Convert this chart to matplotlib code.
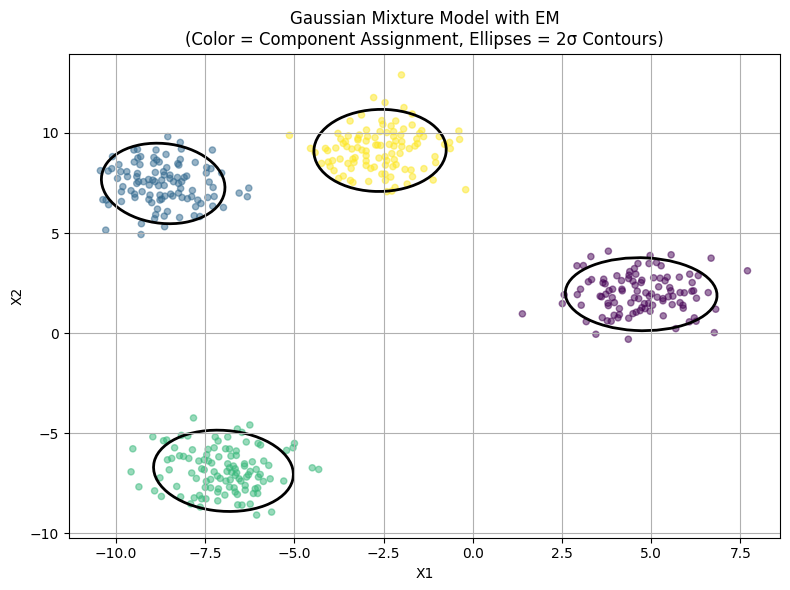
import numpy as np
import matplotlib
matplotlib.use("Agg")
import matplotlib.pyplot as plt
from matplotlib.patches import Ellipse

purple_x = [3.80,3.31,4.97,5.56,6.68,2.92,3.10,4.63,4.94,5.15,5.28,7.70,4.53,4.40,4.57,4.38,4.04,6.08,6.32,5.79,5.07,5.25,5.45,3.33,3.24,3.67,4.37,4.17,4.49,4.74,4.72,5.39,6.15,3.65,3.71,4.55,5.21,5.52,3.02,3.82,3.92,4.18,4.19,4.61,5.55,6.14,5.81,5.93,6.19,6.60,2.93,2.56,3.73,4.85,5.01,4.95,5.17,3.57,3.61,3.91,4.53,4.65,5.33,5.33,5.48,5.61,6.27,2.51,3.04,3.79,3.80,3.97,4.43,4.81,4.93,5.04,5.59,5.81,5.89,5.90,4.11,4.74,4.83,4.69,4.58,4.49,4.97,6.81,1.39,3.96,4.11,4.07,4.37,5.34,3.63,3.77,3.88,3.18,6.07,6.21,6.26,5.69,6.77,3.45,4.36]
purple_y = [4.10,3.83,3.88,3.92,3.75,3.37,3.38,3.48,3.48,3.53,3.37,3.12,3.23,3.08,2.95,2.90,2.87,2.95,2.88,2.80,2.77,2.75,2.80,2.68,2.57,2.70,2.73,2.63,2.60,2.65,2.53,2.62,2.53,2.52,2.47,2.40,2.32,2.28,2.20,2.13,2.20,2.20,2.12,2.10,2.12,2.10,2.03,2.02,2.12,2.03,1.93,1.92,1.95,2.02,1.97,1.85,1.80,1.85,1.82,1.78,1.77,1.73,1.73,1.62,1.82,1.85,1.75,1.48,1.40,1.50,1.38,1.53,1.52,1.48,1.50,1.40,1.43,1.53,1.40,1.25,1.23,1.28,1.23,1.13,1.05,0.98,1.10,1.20,0.97,0.90,0.93,0.77,0.75,0.87,0.78,0.62,0.60,0.58,0.57,0.77,0.60,0.23,0.03,-0.05,-0.30]

blue_x = [-8.55,-8.20,-8.17,-7.30,-9.50,-9.40,-8.88,-9.31,-9.39,-10.10,-8.60,-8.94,-9.49,-9.33,-8.95,-8.86,-8.79,-9.92,-7.78,-8.20,-8.27,-8.24,-10.44,-10.22,-10.12,-9.87,-9.70,-9.68,-9.96,-9.40,-9.42,-8.90,-8.58,-8.67,-8.49,-7.46,-7.34,-7.47,-7.04,-8.02,-8.09,-8.28,-8.16,-8.25,-8.39,-8.49,-8.65,-8.72,-8.91,-8.97,-9.09,-9.23,-9.37,-9.42,-9.07,-8.81,-8.65,-7.39,-7.28,-9.81,-9.85,-9.58,-9.48,-9.47,-9.27,-9.05,-9.08,-9.00,-8.77,-8.72,-8.77,-8.63,-8.47,-8.41,-8.25,-8.19,-7.86,-8.15,-8.00,-7.88,-7.43,-7.25,-6.55,-6.28,-6.32,-10.37,-10.28,-10.21,-9.85,-7.71,-7.62,-7.77,-7.29,-6.99,-8.84,-8.56,-8.89,-8.65,-8.92,-8.22,-7.81,-7.65,-8.64,-9.29,-10.29,-9.30]
blue_y = [9.82,9.53,9.20,9.15,9.15,9.18,9.15,8.82,8.75,8.82,8.93,8.78,8.55,8.42,8.48,8.65,8.55,8.42,8.53,8.68,8.47,8.40,8.12,8.10,8.22,8.07,8.07,7.82,7.73,7.98,7.82,8.03,8.27,8.07,7.90,8.28,8.22,8.00,8.00,7.85,7.78,7.78,7.57,7.48,7.57,7.73,7.90,7.65,7.57,7.65,7.68,7.57,7.57,7.48,7.40,7.37,7.38,7.55,7.28,7.32,7.07,7.12,6.95,6.78,7.07,6.90,6.68,6.52,6.90,6.70,6.65,6.85,6.95,6.85,7.00,7.23,7.13,6.78,6.72,6.82,6.78,6.83,7.00,7.25,6.82,6.67,6.65,6.42,6.58,6.65,6.48,6.32,6.35,6.28,6.20,6.08,5.92,5.85,5.72,5.78,5.87,5.83,5.32,5.47,5.15,4.93]

green_x = [-7.83,-6.25,-6.60,-6.47,-8.97,-8.67,-8.58,-8.17,-7.99,-7.22,-6.87,-7.14,-6.35,-6.02,-5.95,-5.00,-5.04,-5.22,-9.53,-8.36,-7.86,-7.42,-7.25,-6.93,-6.82,-6.63,-6.63,-6.78,-7.46,-8.22,-8.11,-7.96,-8.44,-8.56,-7.12,-7.68,-7.53,-7.41,-7.32,-6.87,-6.40,-6.40,-6.18,-5.86,-5.72,-6.71,-6.66,-6.82,-7.60,-7.53,-8.51,-9.58,-7.25,-6.89,-6.76,-6.62,-6.24,-6.07,-5.96,-7.88,-7.75,-8.77,-7.16,-7.08,-7.35,-6.92,-6.80,-6.66,-6.55,-6.50,-6.29,-6.34,-6.01,-5.68,-5.87,-5.30,-7.47,-8.30,-9.36,-7.50,-7.35,-7.13,-7.15,-6.82,-6.69,-6.66,-6.60,-6.38,-6.38,-6.10,-6.03,-6.15,-6.03,-8.92,-8.73,-8.19,-7.81,-7.66,-7.60,-7.48,-7.15,-6.95,-7.91,-7.64,-6.59,-6.47,-6.24,-6.06,-5.64,-4.50,-4.32]
green_y = [-4.23,-4.58,-4.78,-4.95,-5.17,-5.37,-5.33,-5.10,-5.13,-5.18,-5.18,-5.38,-5.43,-5.50,-5.58,-5.50,-5.72,-5.85,-5.77,-5.72,-5.82,-5.80,-5.72,-5.77,-5.78,-5.88,-6.10,-6.13,-6.07,-6.12,-6.15,-6.25,-6.25,-6.32,-6.17,-6.38,-6.32,-6.38,-6.48,-6.52,-6.52,-6.63,-6.42,-6.38,-6.60,-6.63,-6.77,-6.72,-6.77,-6.82,-6.82,-6.92,-6.92,-6.90,-6.95,-6.97,-6.90,-6.80,-7.05,-6.98,-7.25,-7.22,-7.13,-7.25,-7.30,-7.38,-7.32,-7.10,-7.27,-7.38,-7.07,-7.18,-7.18,-7.27,-7.40,-7.38,-7.40,-7.65,-7.67,-7.70,-7.72,-7.77,-7.93,-7.68,-7.72,-7.93,-8.05,-7.60,-7.83,-7.77,-7.72,-8.00,-8.00,-7.87,-8.15,-8.17,-8.22,-8.10,-8.27,-8.27,-8.37,-8.08,-8.52,-8.68,-8.57,-8.58,-8.53,-9.08,-8.93,-6.72,-6.80]

yellow_x = [-2.00,-2.78,-2.46,-1.93,-1.70,-3.12,-3.44,-2.55,-2.16,-2.52,-2.29,-1.70,-1.94,-2.98,-2.60,-2.41,-2.22,-1.43,-1.49,-0.39,-5.14,-3.78,-3.49,-3.18,-3.22,-2.95,-2.74,-2.22,-2.02,-1.38,-0.94,-0.37,-3.70,-3.63,-3.57,-2.99,-3.22,-2.16,-1.99,-1.57,-2.72,-2.67,-2.58,-2.34,-2.21,-1.99,-1.55,-1.62,-1.78,-0.65,-0.79,-0.63,-4.55,-4.42,-4.13,-4.07,-3.84,-3.53,-3.39,-3.23,-3.11,-2.99,-2.99,-3.30,-3.36,-2.63,-2.46,-2.27,-2.04,-2.41,-2.20,-1.06,-1.04,-4.24,-4.05,-3.93,-3.72,-3.50,-3.33,-2.99,-2.99,-4.00,-3.89,-3.41,-2.86,-2.76,-2.45,-2.15,-2.24,-1.90,-1.73,-1.37,-2.55,-2.46,-2.30,-1.69,-3.76,-3.63,-3.43,-3.36,-2.92,-2.45,-1.11,-1.84,-2.18,-2.27,-2.41,-0.20]
yellow_y = [12.90,11.77,11.52,11.27,10.95,10.90,10.60,10.62,10.60,10.43,10.35,10.40,10.20,10.15,10.07,10.02,10.07,10.12,9.98,10.10,9.88,9.98,9.85,9.90,9.73,9.82,9.77,9.83,9.90,9.82,9.82,9.68,9.70,9.48,9.57,9.60,9.65,9.60,9.57,9.70,9.40,9.40,9.38,9.43,9.35,9.32,9.47,9.35,9.22,9.53,9.43,9.22,9.23,9.02,9.23,9.12,9.25,9.32,9.20,9.27,9.15,9.10,8.87,8.77,8.70,8.75,8.82,8.97,8.98,8.62,8.67,8.82,8.52,8.48,8.55,8.62,8.70,8.48,8.53,8.60,8.38,8.33,8.12,8.23,8.23,8.30,8.40,8.42,8.32,8.18,8.15,8.22,7.95,7.95,7.80,7.82,7.73,7.85,7.63,7.53,7.58,7.63,7.65,7.45,7.28,7.10,7.07,7.17]

means = [(4.72, 1.95), (-8.68, 7.48), (-6.99, -6.87), (-2.60, 9.13)]
covariances = [
    [[1.13, -0.032], [-0.032, 0.83]],
    [[0.75, -0.09], [-0.09, 1.01]],
    [[0.96, -0.087], [-0.087, 1.03]],
    [[0.86, 0.02], [0.02, 1.05]],
]

all_x = purple_x + blue_x + green_x + yellow_x
all_y = purple_y + blue_y + green_y + yellow_y
labels = [0]*len(purple_x) + [1]*len(blue_x) + [2]*len(green_x) + [3]*len(yellow_x)

fig, ax = plt.subplots(figsize=(7.9, 5.9), dpi=100)
ax.scatter(all_x, all_y, c=labels, cmap="viridis", s=20, alpha=0.5)

for mean, cov in zip(means, covariances):
    vals, vecs = np.linalg.eigh(np.array(cov))
    angle = np.degrees(np.arctan2(vecs[1, 1], vecs[0, 1]))
    ax.add_patch(Ellipse(mean, 4*np.sqrt(vals[1]), 4*np.sqrt(vals[0]), angle=angle,
                         fill=False, edgecolor="black", linewidth=2))

ax.set_xlim(-11.32, 8.62)
ax.set_ylim(-10.2, 13.97)
ax.set_title("Gaussian Mixture Model with EM\n(Color = Component Assignment, Ellipses = 2σ Contours)")
ax.set_xlabel("X1")
ax.set_ylabel("X2")
ax.grid(True)
fig.subplots_adjust(left=69/790, right=780.3/790, top=1-53.5/590, bottom=1-537.5/590)
fig.savefig("out.png", dpi=100)
